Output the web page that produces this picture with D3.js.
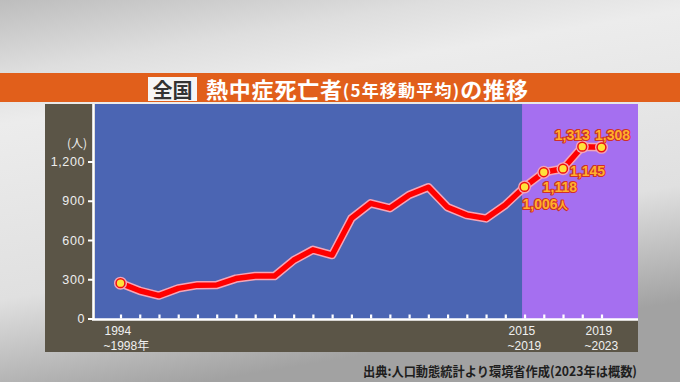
<!DOCTYPE html>
<meta charset="utf-8">
<style>
  body { margin: 0; background: #e6e6e6; }
  svg { display: block; }
</style>
<body>
<script src="https://cdn.jsdelivr.net/npm/d3@7"></script>
<script>

    var width = 680,
        height = 382;

    // 5年移動平均の期間（開始年）と死亡者数
    var periodStart = [1994, 1995, 1996, 1997, 1998, 1999, 2000, 2001, 2002, 2003, 2004, 2005, 2006,
                       2007, 2008, 2009, 2010, 2011, 2012, 2013, 2014, 2015, 2016, 2017, 2018, 2019];
    var deaths = [270, 212, 175, 230, 255, 256, 305, 325, 324, 445, 525, 485, 765,
                  880, 843, 944, 1003, 850, 790, 765, 868, 1006, 1118, 1145, 1313, 1308];
    var yTicks = [0, 300, 600, 900, 1200];
    var xLabelYears = [1994, 2015, 2019];
    var xLabelLines = [["1994", "~1998年"], ["2015", "~2019"], ["2019", "~2023"]];
    var markerYears = [1994, 2015, 2016, 2017, 2018, 2019];
    var valueLabelYears = [2015, 2016, 2017, 2018, 2019];
    var recentStart = 2015;

    var svg = d3.select("body").append("svg")
            .attr("width", width)
            .attr("height", height);

    var defs = svg.append("defs");
    var bg = defs.append("linearGradient").attr("id", "bg")
            .attr("x1", 0).attr("y1", 0).attr("x2", 0.3).attr("y2", 1);
    bg.append("stop").attr("offset", 0).attr("stop-color", "#bdbdbd");
    bg.append("stop").attr("offset", 0.18).attr("stop-color", "#dedede");
    bg.append("stop").attr("offset", 0.3).attr("stop-color", "#ececec");
    bg.append("stop").attr("offset", 0.72).attr("stop-color", "#e0e0e0");
    bg.append("stop").attr("offset", 1).attr("stop-color", "#a2a2a2");

    svg.append("rect").attr("width", width).attr("height", height).attr("fill", "url(#bg)");

    // title bar
    svg.append("rect").attr("x", 0).attr("y", 73).attr("width", width).attr("height", 29)
        .attr("fill", "#e15f1b");
    svg.append("rect").attr("x", 148).attr("y", 77).attr("width", 49).attr("height", 24)
        .attr("fill", "#f5f5f5");
    svg.append("text").attr("x", 172.5).attr("y", 97.5)
        .attr("text-anchor", "middle")
        .attr("font-family", "Noto Sans CJK JP")
        .attr("font-weight", "bold").attr("font-size", 20)
        .attr("fill", "#333")
        .text("全国");

    var title = svg.append("text").attr("x", 206).attr("y", 98)
        .attr("font-family", "Noto Sans CJK JP")
        .attr("font-weight", "bold")
        .attr("fill", "#fff");
    title.append("tspan").attr("font-size", 22).attr("letter-spacing", 0.8).text("熱中症死亡者");
    title.append("tspan").attr("font-size", 17).attr("letter-spacing", 1.2).attr("dy", -1).text("(5年移動平均)");
    title.append("tspan").attr("font-size", 22).attr("letter-spacing", 0.8).attr("dy", 1).text("の推移");

    // chart panels
    var plotLeft = 95, plotRight = 638, plotTop = 104, plotBottom = 319;

    var x = d3.scaleLinear()
            .domain([1994, 2019])
            .range([120.5, 601.5]);

    var y = d3.scaleLinear()
            .domain([0, 1200])
            .range([318.5, 161.5]);

    var split = x(recentStart) - 2.5;

    svg.append("rect").attr("x", 45).attr("y", plotTop)
        .attr("width", plotRight - 45).attr("height", 352 - plotTop)
        .attr("fill", "#5b5547");
    svg.append("rect").attr("x", plotLeft).attr("y", plotTop)
        .attr("width", split - plotLeft).attr("height", plotBottom - plotTop)
        .attr("fill", "#4b65b3");
    svg.append("rect").attr("x", split).attr("y", plotTop)
        .attr("width", plotRight - split).attr("height", plotBottom - plotTop)
        .attr("fill", "#a56ff0");

    // y axis
    var yAxis = svg.append("g")
            .attr("transform", "translate(93,0)")
            .call(d3.axisLeft(y).tickValues(yTicks).tickSize(5).tickPadding(3)
                .tickFormat(d3.format(",")));
    yAxis.select(".domain").remove();
    yAxis.selectAll("line").attr("stroke", "#fff").attr("stroke-width", 2);
    yAxis.selectAll("text")
        .attr("fill", "#eeeeee")
        .attr("font-family", "Liberation Sans, Arial, sans-serif")
        .attr("font-size", 12.5)
        .attr("letter-spacing", 0.6);

    svg.append("text").attr("x", 87).attr("y", 148)
        .attr("text-anchor", "end")
        .attr("font-family", "Noto Sans CJK JP")
        .attr("font-size", 12)
        .attr("fill", "#eee")
        .text("(人)");

    // x axis: ticks point inward
    var xAxis = svg.append("g")
            .attr("transform", "translate(0," + (plotBottom - 0.5) + ")")
            .call(d3.axisBottom(x).tickValues(periodStart).tickSize(-4).tickFormat(""));
    xAxis.select(".domain").remove();
    xAxis.selectAll("line").attr("stroke", "#fff").attr("stroke-width", 2.2);

    svg.append("line").attr("x1", 93.5).attr("x2", 93.5).attr("y1", plotTop).attr("y2", plotBottom + 1)
        .attr("stroke", "#fff").attr("stroke-width", 2.6);
    svg.append("line").attr("x1", 92).attr("x2", plotRight)
        .attr("y1", plotBottom + 0.5).attr("y2", plotBottom + 0.5)
        .attr("stroke", "#fff").attr("stroke-width", 2.6);

    xLabelYears.forEach(function(yr, i) {
        var t = svg.append("text")
            .attr("font-family", "Liberation Sans, Arial, sans-serif")
            .attr("font-size", 12)
            .attr("fill", "#f0f0f0");
        t.append("tspan").attr("x", x(yr) - 16).attr("y", 335).text(xLabelLines[i][0]);
        t.append("tspan").attr("x", x(yr) - 17).attr("y", 349.5)
            .attr("font-family", "Liberation Sans, Noto Sans CJK JP")
            .text(xLabelLines[i][1]);
    });

    // line
    var line = d3.line()
            .x(function(d, i) { return x(periodStart[i]); })
            .y(function(d) { return y(d); });

    svg.append("path").datum(deaths)
        .attr("d", line)
        .attr("fill", "none")
        .attr("stroke", "#f4a6b8")
        .attr("stroke-width", 8.5)
        .attr("stroke-linejoin", "round")
        .attr("stroke-linecap", "round");
    svg.append("path").datum(deaths)
        .attr("d", line)
        .attr("fill", "none")
        .attr("stroke", "#ff0000")
        .attr("stroke-width", 5.5)
        .attr("stroke-linejoin", "round")
        .attr("stroke-linecap", "round");

    var markers = markerYears.map(function(yr) { return periodStart.indexOf(yr); });
    svg.selectAll(".halo").data(markers).enter().append("circle")
        .attr("cx", function(i) { return x(periodStart[i]); })
        .attr("cy", function(i) { return y(deaths[i]); })
        .attr("r", 6.5)
        .attr("fill", "#f4a6b8");
    svg.selectAll(".dot").data(markers).enter().append("circle")
        .attr("cx", function(i) { return x(periodStart[i]); })
        .attr("cy", function(i) { return y(deaths[i]); })
        .attr("r", 4.4)
        .attr("fill", "#ffe23a")
        .attr("stroke", "#ee1111")
        .attr("stroke-width", 1.5);

    // value labels
    var labelOffset = {
        2015: [-2, 22, "start"],
        2016: [-1, 20, "start"],
        2017: [7, 7, "start"],
        2018: [-10, -7, "middle"],
        2019: [11, -7, "middle"]
    };
    valueLabelYears.forEach(function(yr) {
        var i = periodStart.indexOf(yr);
        var o = labelOffset[yr];
        var t = svg.append("text")
            .attr("x", x(yr) + o[0])
            .attr("y", y(deaths[i]) + o[1])
            .attr("text-anchor", o[2])
            .attr("font-family", "Liberation Sans Narrow, Liberation Sans, Arial")
            .attr("font-weight", "bold")
            .attr("font-size", 14)
            .attr("fill", "#ffb02a")
            .attr("stroke", "#d0302a")
            .attr("stroke-width", 2.2)
            .attr("paint-order", "stroke")
            .attr("stroke-linejoin", "round");
        t.append("tspan").text(d3.format(",")(deaths[i]));
        if (yr === recentStart) {
            t.append("tspan").attr("font-family", "Noto Sans CJK JP")
                .attr("font-size", 10.5).text("人");
        }
    });

    // source
    svg.append("text").attr("x", 637).attr("y", 375.5)
        .attr("text-anchor", "end")
        .attr("font-family", "Noto Sans CJK JP")
        .attr("font-weight", "bold")
        .attr("font-size", 13)
        .attr("fill", "#1e1e1e")
        .attr("textLength", 274)
        .attr("lengthAdjust", "spacingAndGlyphs")
        .text("出典:人口動態統計より環境省作成(2023年は概数)");

</script>
